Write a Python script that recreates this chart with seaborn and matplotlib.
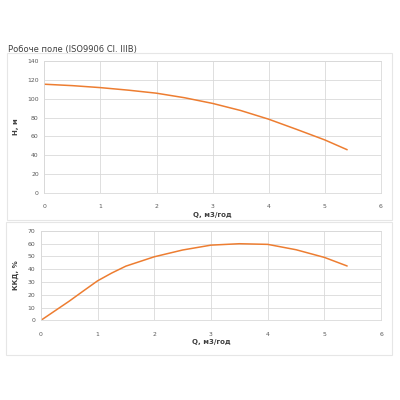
import matplotlib
matplotlib.use("Agg")
import matplotlib.pyplot as plt
import seaborn as sns
import pandas as pd
from matplotlib.patches import Rectangle

# Data
q_head = [0, 0.5, 1, 1.5, 2, 2.5, 3, 3.5, 4, 4.5, 5, 5.4]
head = [115.3, 113.8, 111.7, 109.0, 105.8, 101.0, 95.0, 87.5, 78.3, 67.5, 56.4, 46.0]

q_eff = [0, 0.25, 0.5, 0.75, 1, 1.25, 1.5, 2, 2.5, 3, 3.5, 4, 4.5, 5, 5.4]
eff = [0, 7.5, 15.0, 23.0, 30.9, 37.0, 42.4, 49.7, 55.0, 58.8, 59.9, 59.4, 55.2, 49.2, 42.5]

x_ticks = [0, 1, 2, 3, 4, 5, 6]
head_ticks = [0, 20, 40, 60, 80, 100, 120, 140]
eff_ticks = [0, 10, 20, 30, 40, 50, 60, 70]

title = "Робоче поле (ISO9906 Cl. IIIB)"
xlabel = "Q, м3/год"
ylabel_head = "H, м"
ylabel_eff = "ККД, %"

sns.set_style("white")
plt.rcParams['font.family'] = ['DejaVu Sans']

LINE = "#ED7D31"
GRID = "#D9D9D9"
TICK = "#595959"
LAB = "#404040"

fig = plt.figure(figsize=(4, 4), dpi=100)
fig.patch.set_facecolor("white")

# outer chart frames
fig.patches.append(Rectangle((0.0175, 0.45), 0.9625, 0.4175, transform=fig.transFigure,
                             fill=False, edgecolor="#E6E6E6", linewidth=0.8))
fig.patches.append(Rectangle((0.015, 0.1125), 0.965, 0.3325, transform=fig.transFigure,
                             fill=False, edgecolor="#E6E6E6", linewidth=0.8))

fig.text(0.02, 0.876, title, fontsize=6.0, color="#404040", ha="left", va="center")

def style(ax, yticks):
    ax.set_xlim(0, 6)
    ax.set_ylim(yticks[0], yticks[-1])
    ax.set_xticks(x_ticks)
    ax.set_yticks(yticks)
    ax.grid(True, color=GRID, linewidth=0.6)
    for s in ax.spines.values():
        s.set_color(GRID)
        s.set_linewidth(0.6)
    ax.tick_params(axis="both", length=0, labelsize=4.4, labelcolor=TICK)
    ax.tick_params(axis="x", pad=8)
    ax.tick_params(axis="y", pad=4)

ax1 = fig.add_axes([0.111, 0.517, 0.841, 0.3308])
sns.lineplot(x=q_head, y=head, ax=ax1, color=LINE, linewidth=1.1)
style(ax1, head_ticks)
ax1.set_xlabel(xlabel, fontsize=5, color=LAB, fontweight="bold", labelpad=2)
ax1.set_ylabel(ylabel_head, fontsize=5, color=LAB, fontweight="bold", labelpad=6)

ax2 = fig.add_axes([0.102, 0.199, 0.851, 0.224])
sns.lineplot(x=q_eff, y=eff, ax=ax2, color=LINE, linewidth=1.1)
style(ax2, eff_ticks)
ax2.set_xlabel(xlabel, fontsize=5, color=LAB, fontweight="bold", labelpad=2)
ax2.set_ylabel(ylabel_eff, fontsize=5, color=LAB, fontweight="bold", labelpad=6)

fig.savefig("out.png", dpi=100)
